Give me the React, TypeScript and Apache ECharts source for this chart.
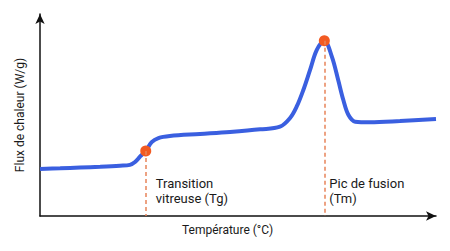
import React, { useEffect, useRef } from "react";
import * as echarts from "echarts";

// DSC thermogram: heat flow vs temperature (arbitrary units, 0–100)
const temperature = [
  0, 5.1, 10.1, 15.2, 20.2, 22.7, 24.0, 25.3, 26.7, 28.2, 29.9, 32.8, 40.4, 48.0,
  55.6, 60.6, 63.1, 64.8, 66.5, 68.2, 69.9, 71.8, 73.7, 75.3, 76.6, 77.9, 79.6,
  83.3, 90.9, 100,
];
const heatFlow = [
  23.3, 23.6, 24.0, 24.4, 24.9, 25.3, 26.7, 29.5, 32.2, 36.6, 38.6, 39.6, 40.6, 41.6,
  42.9, 44.2, 48.4, 54.1, 62.4, 72.3, 82.2, 86.8, 78.9, 67.3, 57.4, 50.0, 46.7,
  46.4, 47.0, 48.0,
];

// Characteristic points: glass transition and melting peak
const eventNames = ["Transition\nvitreuse (Tg)", "Pic de fusion\n(Tm)"];
const eventTemps = [26.7, 71.8];
const eventFlows = [32.2, 86.8];

const xAxisName = "Température (°C)";
const yAxisName = "Flux de chaleur (W/g)";

const FONT = "Roboto, 'Noto Sans', sans-serif";

export default function App() {
  const ref = useRef<HTMLDivElement>(null);

  useEffect(() => {
    document.body.style.margin = "0";
    if (!ref.current) return;
    const chart = echarts.init(ref.current, null, { renderer: "svg" });

    const axisLine = {
      show: true,
      symbol: ["none", "arrow"],
      symbolSize: [7, 10],
      lineStyle: { color: "#111", width: 1.5 },
    };

    chart.setOption({
      animation: false,
      grid: { left: 40, right: 14, top: 14, bottom: 35 },
      xAxis: {
        type: "value",
        min: 0,
        max: 100,
        axisLine,
        axisTick: { show: false },
        axisLabel: { show: false },
        splitLine: { show: false },
      },
      yAxis: {
        type: "value",
        min: 0,
        max: 100,
        axisLine,
        axisTick: { show: false },
        axisLabel: { show: false },
        splitLine: { show: false },
      },
      series: [
        {
          type: "line",
          data: temperature.map((t, i) => [t, heatFlow[i]]),
          smooth: 0.35,
          showSymbol: false,
          lineStyle: { color: "#3a5fe0", width: 4 },
          z: 2,
        },
        {
          type: "scatter",
          data: eventTemps.map((t, i) => [t, eventFlows[i]]),
          symbolSize: 11,
          itemStyle: { color: "#f25a22", opacity: 1 },
          z: 4,
          markLine: {
            silent: true,
            symbol: "none",
            label: { show: false },
            lineStyle: { color: "#e8845a", width: 1.5, type: [4, 3], opacity: 1 },
            data: eventTemps.map((t, i) => [
              { coord: [t, eventFlows[i]] },
              { coord: [t, 0] },
            ]),
          },
        },
      ],
    });

    // Annotation texts placed next to each event line
    const texts = eventTemps.map((t, i) => {
      const [px] = chart.convertToPixel({ gridIndex: 0 }, [t, 0]) as number[];
      return {
        type: "text",
        left: px + (i === 0 ? 10 : 5),
        top: 176,
        style: {
          text: eventNames[i],
          font: `13px ${FONT}`,
          fill: "#1a1a1a",
          lineHeight: 15,
        },
      };
    });

    chart.setOption({
      graphic: [
        ...texts,
        {
          type: "text",
          left: 182,
          top: 224,
          style: { text: xAxisName, font: `12px ${FONT}`, fill: "#1a1a1a" },
        },
        {
          type: "text",
          x: 20,
          y: 115,
          rotation: Math.PI / 2,
          style: {
            text: yAxisName,
            font: `12px ${FONT}`,
            fill: "#1a1a1a",
            align: "center",
            verticalAlign: "middle",
          },
        },
      ],
    });

    return () => chart.dispose();
  }, []);

  return <div ref={ref} style={{ width: 450, height: 251 }} />;
}
